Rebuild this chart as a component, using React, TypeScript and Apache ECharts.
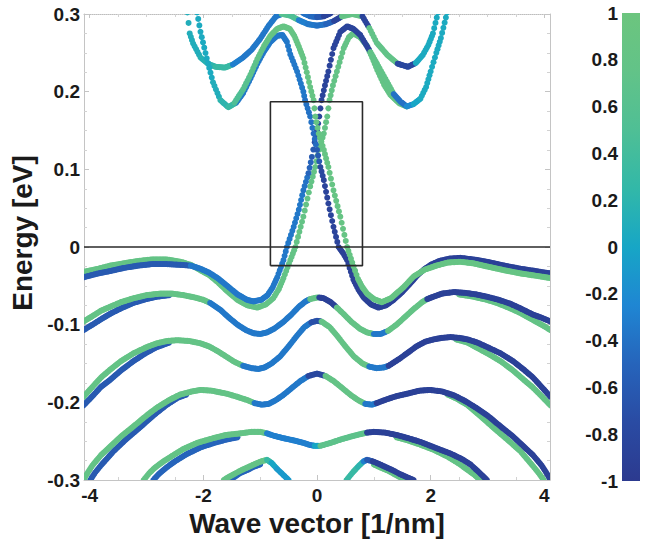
import React, { useEffect, useRef } from "react";
import * as echarts from "echarts";

type P = [number, number, number]; // [wave vector, energy, spin]

// axis extents / ticks
const X_MIN = -4.1;
const X_MAX = 4.1;
const Y_MIN = -0.3;
const Y_MAX = 0.3;
const Y_STEP = 0.1;
const CB_MIN = -1;
const CB_MAX = 1;
const CB_STEP = 0.2;

// colour map of the spin value, from -1 (bottom) to 1 (top)
const CMAP = ["#2c3a8f", "#2a4ba3", "#2664bb", "#1f86d3", "#17a6c6", "#32b8a8", "#4fbf95", "#62c388", "#6cc57e"];

// highlighted window and zero-energy line
const boxCorners: [number, number][] = [[-0.82, -0.024], [0.8, -0.024], [0.8, 0.187], [-0.82, 0.187], [-0.82, -0.024]];
const zeroEnergy = 0;

// ---- conduction bands ----
const capTop: P[] = [[-0.24, 0.301, -0.4], [-0.12, 0.297, -0.45], [0, 0.296, -0.6], [0.12, 0.297, -0.85], [0.24, 0.301, -0.9]];

const bandU: P[] = [
  [-2.28, 0.302, 0.1], [-2.24, 0.275, 0.1], [-2.18, 0.262, 0.1], [-2.05, 0.244, 0.15], [-1.92, 0.236, 0.2],
  [-1.78, 0.232, 0.3], [-1.62, 0.231, 0.3], [-1.48, 0.235, -0.3], [-1.3, 0.244, -0.35], [-1.15, 0.254, -0.35],
  [-1.0, 0.268, -0.35], [-0.85, 0.285, -0.35], [-0.72, 0.297, -0.35], [-0.62, 0.3, 0.6], [-0.47, 0.298, 0.5],
  [-0.32, 0.292, -0.3], [-0.16, 0.287, -0.35], [0, 0.285, -0.4], [0.16, 0.287, -0.5], [0.3, 0.291, -0.85],
  [0.44, 0.297, 0.8], [0.62, 0.3, 0.8], [0.8, 0.297, -0.85], [0.92, 0.282, 0.75], [1.05, 0.263, 0.75],
  [1.24, 0.247, 0.75], [1.42, 0.236, -0.8], [1.6, 0.232, -0.8], [1.74, 0.237, 0.05], [1.86, 0.247, 0.05],
  [1.96, 0.26, 0.05], [2.04, 0.275, 0.05], [2.13, 0.302, 0.05],
];

// ---- bands through the crossing ----
const bandD2: P[] = [
  [-4.11, -0.032, 0.8], [-3.85, -0.028, 0.8], [-3.64, -0.024, 0.8], [-3.4, -0.021, 0.8], [-3.15, -0.018, 0.8],
  [-2.9, -0.016, 0.8], [-2.65, -0.016, 0.8], [-2.4, -0.019, 0.8], [-2.22, -0.023, 0.8], [-2.05, -0.03, 0.8],
  [-1.9, -0.036, 0.8], [-1.75, -0.045, 0.8], [-1.58, -0.057, 0.8], [-1.4, -0.068, 0.8], [-1.23, -0.075, 0.8],
  [-1.05, -0.078, 0.8], [-0.9, -0.074, 0.8], [-0.77, -0.066, 0.8], [-0.67, -0.054, 0.8], [-0.59, -0.04, 0.8],
  [-0.47, -0.017, 0.8], [-0.38, 0, 0.8], [-0.24, 0.039, 0.8], [-0.12, 0.078, 0.8], [-0.03, 0.103, 0.8],
  [0.03, 0.125, 0.8], [0.12, 0.146, 0.8], [0.18, 0.168, 0.8], [0.22, 0.189, 0.8], [0.28, 0.208, 0.8],
  [0.35, 0.226, 0.8], [0.47, 0.256, 0.8], [0.56, 0.27, 0.8], [0.64, 0.275, 0.8], [0.76, 0.27, 0.8],
  [0.88, 0.259, 0.8], [0.97, 0.244, 0.8], [1.06, 0.228, 0.8], [1.18, 0.209, 0.8], [1.29, 0.196, 0.8],
  [1.45, 0.185, 0.8], [1.58, 0.181, 0.8],
];

const bandD1: P[] = [
  [-4.11, -0.039, -0.6], [-3.85, -0.034, -0.6], [-3.64, -0.031, -0.6], [-3.4, -0.027, -0.6], [-3.15, -0.024, -0.6],
  [-2.9, -0.022, -0.6], [-2.65, -0.022, -0.6], [-2.4, -0.023, -0.6], [-2.22, -0.024, -0.35], [-2.05, -0.028, -0.35],
  [-1.9, -0.033, -0.35], [-1.75, -0.04, -0.35], [-1.58, -0.05, -0.35], [-1.4, -0.061, -0.35], [-1.23, -0.068, -0.35],
  [-1.12, -0.07, -0.35], [-0.98, -0.068, -0.35], [-0.87, -0.062, -0.35], [-0.78, -0.052, -0.35], [-0.7, -0.039, -0.35],
  [-0.59, -0.017, -0.35], [-0.53, 0, -0.35], [-0.41, 0.026, -0.35], [-0.32, 0.048, -0.35], [-0.24, 0.073, -0.4],
  [-0.15, 0.095, -0.5], [-0.09, 0.116, -0.6], [-0.04, 0.135, -0.7], [0.0, 0.15, -0.8], [0.04, 0.168, -0.85],
  [0.08, 0.189, -0.85], [0.14, 0.208, -0.85], [0.2, 0.226, -0.85], [0.29, 0.256, -0.85], [0.41, 0.277, -0.85],
  [0.53, 0.284, -0.85], [0.64, 0.281, -0.85], [0.76, 0.273, -0.85], [0.94, 0.251, 0.75], [1.1, 0.23, 0.75],
  [1.23, 0.213, 0.75], [1.35, 0.197, -0.4], [1.47, 0.187, -0.4], [1.58, 0.181, -0.2], [1.7, 0.184, 0.0],
  [1.82, 0.191, 0.05], [1.92, 0.206, 0.05], [2.0, 0.226, 0.05], [2.1, 0.25, 0.05], [2.18, 0.269, 0.05],
  [2.29, 0.302, 0.05],
];

const bandD3: P[] = [
  [-2.11, 0.302, 0.05], [-2.05, 0.277, 0.05], [-1.94, 0.243, 0.05], [-1.83, 0.212, 0.1], [-1.7, 0.189, 0.2],
  [-1.56, 0.18, 0.3], [-1.42, 0.186, -0.35], [-1.3, 0.198, -0.35], [-1.17, 0.217, -0.35], [-1.05, 0.236, -0.35],
  [-0.93, 0.252, -0.35], [-0.82, 0.264, -0.35], [-0.7, 0.272, -0.35], [-0.61, 0.273, -0.35], [-0.53, 0.264, -0.35],
  [-0.47, 0.248, -0.35], [-0.35, 0.226, -0.35], [-0.24, 0.2, -0.35], [-0.21, 0.189, -0.4], [-0.12, 0.168, -0.4],
  [-0.06, 0.146, -0.45], [0.0, 0.125, -0.6], [0.06, 0.103, -0.8], [0.12, 0.086, -0.85], [0.2, 0.056, -0.85],
  [0.29, 0.026, -0.85], [0.38, 0, -0.9], [0.46, -0.008, -0.9], [0.53, -0.017, -0.9], [0.64, -0.042, -0.9],
  [0.73, -0.055, -0.9], [0.82, -0.065, -0.9], [0.95, -0.074, -0.9], [1.08, -0.078, -0.9], [1.22, -0.075, -0.9],
  [1.35, -0.068, -0.9], [1.5, -0.058, -0.9], [1.64, -0.047, -0.9], [1.76, -0.037, -0.9], [1.88, -0.029, -0.9],
  [2.0, -0.023, -0.9], [2.15, -0.018, -0.9], [2.33, -0.015, -0.9], [2.52, -0.014, -0.9], [2.75, -0.016, -0.9],
  [2.99, -0.019, -0.9], [3.3, -0.024, -0.9], [3.58, -0.028, -0.9], [3.85, -0.031, -0.9], [4.11, -0.034, -0.9],
];

const bandD4: P[] = [
  [-1.45, 0.186, 0.5], [-1.3, 0.203, 0.6], [-1.17, 0.222, 0.7], [-1.05, 0.242, 0.75], [-0.93, 0.259, 0.8],
  [-0.82, 0.272, 0.85], [-0.7, 0.281, 0.85], [-0.59, 0.284, 0.85], [-0.48, 0.281, 0.85], [-0.4, 0.272, 0.85],
  [-0.32, 0.258, 0.85], [-0.24, 0.243, 0.85], [-0.18, 0.225, 0.85], [-0.12, 0.206, 0.85], [-0.06, 0.189, 0.85],
  [-0.03, 0.168, 0.85], [0.03, 0.146, 0.85], [0.12, 0.125, 0.85], [0.2, 0.103, 0.85], [0.29, 0.073, 0.85],
  [0.41, 0.039, 0.85], [0.53, 0, 0.85], [0.62, -0.02, 0.85], [0.72, -0.041, 0.85], [0.8, -0.052, 0.85],
  [0.88, -0.06, 0.85], [1.0, -0.067, 0.85], [1.14, -0.071, 0.85], [1.3, -0.066, 0.85], [1.52, -0.052, 0.85],
  [1.7, -0.038, 0.85], [1.9, -0.029, 0.85], [2.1, -0.024, 0.85], [2.3, -0.02, 0.85], [2.52, -0.019, 0.85],
  [2.75, -0.021, 0.85], [2.99, -0.025, 0.85], [3.3, -0.03, 0.85], [3.58, -0.034, 0.85], [3.85, -0.037, 0.85],
  [4.11, -0.04, 0.85],
];

// ---- lower valence bands ----
const vb2LoL: P[] = [[-4.11, -0.107, -0.6], [-3.95, -0.1, -0.6], [-3.8, -0.093, -0.6], [-3.64, -0.086, -0.6], [-3.45, -0.079, -0.6], [-3.23, -0.072, -0.6], [-3.0, -0.067, -0.6], [-2.82, -0.064, -0.6], [-2.6, -0.062, -0.6]];
const vb2LoR: P[] = [[2.5, -0.061, 0.8], [2.75, -0.064, 0.8], [2.99, -0.068, 0.8], [3.2, -0.073, 0.8], [3.4, -0.079, 0.8], [3.58, -0.085, 0.8], [3.8, -0.094, 0.8], [3.95, -0.1, 0.8], [4.11, -0.107, 0.8]];
const vb2: P[] = [
  [-4.11, -0.096, 0.8], [-3.95, -0.089, 0.8], [-3.8, -0.082, 0.8], [-3.64, -0.077, 0.8], [-3.45, -0.071, 0.8],
  [-3.23, -0.066, 0.8], [-3.0, -0.062, 0.8], [-2.76, -0.06, 0.8], [-2.55, -0.06, 0.8], [-2.35, -0.062, 0.8],
  [-2.15, -0.065, 0.8], [-2.0, -0.068, 0.8], [-1.88, -0.072, -0.35], [-1.7, -0.081, -0.35], [-1.55, -0.091, -0.35],
  [-1.4, -0.1, -0.35], [-1.25, -0.107, -0.35], [-1.12, -0.111, -0.35], [-1.0, -0.112, -0.35], [-0.88, -0.11, -0.35],
  [-0.75, -0.105, -0.35], [-0.6, -0.097, -0.35], [-0.45, -0.087, -0.35], [-0.32, -0.077, -0.35], [-0.2, -0.07, -0.35],
  [-0.12, -0.067, 0.8], [0, -0.065, 0.8], [0.04, -0.065, -0.9], [0.12, -0.066, -0.9], [0.24, -0.071, -0.9],
  [0.35, -0.078, 0.8], [0.45, -0.085, 0.8], [0.6, -0.096, 0.8], [0.75, -0.105, 0.8], [0.88, -0.11, 0.8],
  [1.0, -0.112, -0.35], [1.12, -0.112, -0.35], [1.25, -0.108, 0.8], [1.4, -0.1, 0.8], [1.55, -0.09, 0.8],
  [1.7, -0.08, 0.8], [1.85, -0.071, 0.8], [1.94, -0.067, -0.9], [2.05, -0.064, -0.9], [2.2, -0.06, -0.9],
  [2.41, -0.058, -0.9], [2.6, -0.059, -0.9], [2.8, -0.061, -0.9], [2.99, -0.064, -0.9], [3.2, -0.068, -0.9],
  [3.4, -0.073, -0.9], [3.58, -0.079, -0.9], [3.8, -0.087, -0.9], [3.95, -0.091, -0.9], [4.11, -0.096, -0.9],
];

const vb3LoL: P[] = [[-4.11, -0.204, -0.6], [-3.95, -0.192, -0.6], [-3.8, -0.18, -0.6], [-3.64, -0.171, -0.6], [-3.45, -0.159, -0.6], [-3.23, -0.147, -0.6], [-3.0, -0.136, -0.6], [-2.82, -0.129, -0.6], [-2.6, -0.123, -0.6]];
const vb3LoR: P[] = [[2.45, -0.119, 0.8], [2.65, -0.123, 0.8], [2.82, -0.13, 0.8], [3.0, -0.137, 0.8], [3.23, -0.147, 0.8], [3.45, -0.159, 0.8], [3.64, -0.171, 0.8], [3.8, -0.181, 0.8], [3.95, -0.192, 0.8], [4.11, -0.204, 0.8]];
const vb3: P[] = [
  [-4.11, -0.193, 0.8], [-3.95, -0.18, 0.8], [-3.8, -0.168, 0.8], [-3.64, -0.158, 0.8], [-3.45, -0.147, 0.8],
  [-3.23, -0.137, 0.8], [-3.0, -0.129, 0.8], [-2.82, -0.124, 0.8], [-2.64, -0.121, 0.8], [-2.46, -0.12, 0.8],
  [-2.25, -0.121, 0.8], [-2.05, -0.124, 0.8], [-1.9, -0.128, 0.8], [-1.75, -0.134, 0.8], [-1.6, -0.141, 0.8],
  [-1.45, -0.148, 0.8], [-1.3, -0.153, -0.35], [-1.15, -0.156, -0.35], [-1.03, -0.157, -0.35], [-0.92, -0.155, -0.35],
  [-0.8, -0.15, -0.35], [-0.65, -0.141, -0.35], [-0.5, -0.128, -0.35], [-0.35, -0.114, -0.35], [-0.22, -0.103, -0.35],
  [-0.1, -0.097, -0.7], [0, -0.095, -0.7], [0.08, -0.096, 0.8], [0.22, -0.103, 0.8], [0.35, -0.114, 0.8],
  [0.5, -0.128, 0.8], [0.65, -0.141, 0.8], [0.8, -0.15, 0.8], [0.92, -0.154, -0.35], [1.05, -0.156, -0.35],
  [1.18, -0.155, -0.35], [1.26, -0.153, -0.9], [1.45, -0.144, -0.9], [1.6, -0.136, -0.9], [1.75, -0.128, -0.9],
  [1.9, -0.122, -0.9], [2.05, -0.119, -0.9], [2.2, -0.117, -0.9], [2.35, -0.116, -0.9], [2.5, -0.117, -0.9],
  [2.65, -0.119, -0.9], [2.82, -0.123, -0.9], [3.0, -0.129, -0.9], [3.23, -0.137, -0.9], [3.45, -0.147, -0.9],
  [3.64, -0.158, -0.9], [3.8, -0.168, -0.9], [3.95, -0.18, -0.9], [4.11, -0.193, -0.9],
];

const vb4LoL: P[] = [[-3.99, -0.3, -0.6], [-3.9, -0.29, -0.6], [-3.8, -0.281, -0.6], [-3.58, -0.263, -0.6], [-3.35, -0.247, -0.6], [-3.11, -0.232, -0.6], [-2.88, -0.217, -0.6], [-2.64, -0.203, -0.6], [-2.45, -0.194, -0.6], [-2.3, -0.19, -0.6]];
const vb4LoR: P[] = [[2.3, -0.19, 0.8], [2.45, -0.195, 0.8], [2.64, -0.203, 0.8], [2.88, -0.218, 0.8], [3.11, -0.233, 0.8], [3.35, -0.248, 0.8], [3.58, -0.263, 0.8], [3.8, -0.282, 0.8], [3.9, -0.291, 0.8], [3.99, -0.3, 0.8]];
const vb4: P[] = [
  [-4.11, -0.3, 0.8], [-4.03, -0.29, 0.8], [-3.95, -0.281, 0.8], [-3.8, -0.268, 0.8], [-3.64, -0.257, 0.8],
  [-3.45, -0.244, 0.8], [-3.23, -0.231, 0.8], [-3.0, -0.217, 0.8], [-2.82, -0.207, 0.8], [-2.6, -0.197, 0.8],
  [-2.41, -0.19, 0.8], [-2.2, -0.186, 0.8], [-2.05, -0.184, 0.8], [-1.85, -0.185, 0.8], [-1.58, -0.189, 0.8],
  [-1.4, -0.193, 0.8], [-1.23, -0.197, 0.8], [-1.1, -0.201, -0.35], [-0.97, -0.203, -0.35], [-0.85, -0.202, -0.35],
  [-0.72, -0.197, -0.35], [-0.6, -0.191, -0.35], [-0.45, -0.182, -0.35], [-0.3, -0.173, -0.35], [-0.15, -0.166, -0.8],
  [0, -0.163, -0.8], [0.15, -0.166, 0.8], [0.3, -0.173, 0.8], [0.45, -0.182, 0.8], [0.6, -0.191, 0.8],
  [0.72, -0.197, 0.8], [0.85, -0.202, -0.35], [0.97, -0.203, -0.35], [1.05, -0.201, -0.9], [1.23, -0.196, -0.9],
  [1.4, -0.192, -0.9], [1.58, -0.189, -0.9], [1.8, -0.185, -0.9], [1.99, -0.184, -0.9], [2.2, -0.186, -0.9],
  [2.41, -0.191, -0.9], [2.6, -0.198, -0.9], [2.82, -0.208, -0.9], [3.0, -0.217, -0.9], [3.23, -0.231, -0.9],
  [3.45, -0.244, -0.9], [3.64, -0.257, -0.9], [3.8, -0.268, -0.9], [3.95, -0.281, -0.9], [4.03, -0.29, -0.9],
  [4.11, -0.3, -0.9],
];

const vb5LoL: P[] = [[-2.88, -0.3, -0.5], [-2.78, -0.292, -0.5], [-2.65, -0.284, -0.5], [-2.5, -0.276, -0.5], [-2.3, -0.267, -0.5], [-2.05, -0.258, -0.5], [-1.8, -0.252, -0.5], [-1.6, -0.248, -0.5], [-1.4, -0.245, -0.5]];
const vb5LoR: P[] = [[1.4, -0.245, 0.8], [1.6, -0.249, 0.8], [1.8, -0.254, 0.8], [2.05, -0.261, 0.8], [2.3, -0.27, 0.8], [2.5, -0.279, 0.8], [2.65, -0.287, 0.8], [2.78, -0.294, 0.8], [2.87, -0.3, 0.8]];
const vb5: P[] = [
  [-3.05, -0.3, 0.8], [-2.95, -0.291, 0.8], [-2.85, -0.284, 0.8], [-2.7, -0.276, 0.8], [-2.55, -0.269, 0.8],
  [-2.35, -0.26, 0.8], [-2.1, -0.252, 0.8], [-1.82, -0.246, 0.8], [-1.6, -0.242, 0.8], [-1.35, -0.24, 0.8],
  [-1.15, -0.238, 0.8], [-1.0, -0.238, 0.8], [-0.88, -0.24, -0.3], [-0.76, -0.243, -0.3], [-0.6, -0.246, -0.3],
  [-0.41, -0.249, -0.3], [-0.25, -0.252, -0.3], [-0.12, -0.255, -0.3], [-0.04, -0.256, 0.0], [0.06, -0.256, 0.7],
  [0.25, -0.252, 0.7], [0.41, -0.248, 0.7], [0.6, -0.244, 0.7], [0.76, -0.241, 0.7], [0.88, -0.239, -0.9],
  [1.0, -0.238, -0.9], [1.2, -0.239, -0.9], [1.4, -0.242, -0.9], [1.6, -0.246, -0.9], [1.82, -0.251, -0.9],
  [2.1, -0.259, -0.9], [2.35, -0.266, -0.9], [2.55, -0.273, -0.9], [2.7, -0.28, -0.9], [2.85, -0.29, -0.9],
  [2.99, -0.3, -0.9],
];

const vb6LLo: P[] = [[-1.56, -0.3, -0.5], [-1.45, -0.296, -0.5], [-1.35, -0.291, -0.5], [-1.22, -0.287, -0.5], [-1.12, -0.283, -0.5], [-1.0, -0.28, -0.5]];
const vb6L: P[] = [
  [-1.64, -0.3, 0.8], [-1.55, -0.296, 0.8], [-1.45, -0.292, 0.8], [-1.32, -0.287, 0.8], [-1.2, -0.283, 0.8],
  [-1.08, -0.279, 0.8], [-0.98, -0.276, 0.8], [-0.88, -0.274, 0.3], [-0.8, -0.278, 0.0], [-0.7, -0.286, -0.1],
  [-0.6, -0.293, -0.1], [-0.5, -0.3, -0.1],
];
const vb6RLo: P[] = [[1.0, -0.28, 0.8], [1.12, -0.284, 0.8], [1.25, -0.288, 0.8], [1.35, -0.292, 0.8], [1.45, -0.296, 0.8], [1.6, -0.3, 0.8]];
const vb6R: P[] = [
  [0.52, -0.3, 0.3], [0.62, -0.291, 0.3], [0.72, -0.283, 0.2], [0.82, -0.276, -0.3], [0.88, -0.274, -0.6],
  [0.98, -0.276, -0.9], [1.08, -0.279, -0.9], [1.2, -0.283, -0.9], [1.32, -0.287, -0.9], [1.45, -0.292, -0.9],
  [1.57, -0.296, -0.9], [1.7, -0.3, -0.9],
];

// drawing order (later ones on top)
const curves: P[][] = [
  bandU, capTop, bandD2, bandD1, bandD3, bandD4,
  vb2LoL, vb2LoR, vb2, vb3LoL, vb3LoR, vb3, vb4LoL, vb4LoR, vb4,
  vb5LoL, vb5LoR, vb5, vb6LLo, vb6L, vb6RLo, vb6R,
];

const FONT = '"Liberation Sans", Arial, Helvetica, sans-serif';
const DOT_R = 3.0;
const DOT_STEP = 1.5;

export default function App() {
  const ref = useRef<HTMLDivElement>(null);

  useEffect(() => {
    if (!ref.current) return;
    const chart = echarts.init(ref.current, undefined, { renderer: "svg" });

    const segments: number[][] = [];
    curves.forEach((c) => {
      for (let i = 0; i < c.length - 1; i++) {
        const a = c[i];
        const b = c[i + 1];
        segments.push([a[0], a[1], b[0], b[1], a[2], i === c.length - 2 ? 1 : 0]);
      }
    });

    const labelStyle = { color: "#1a1a1a", fontSize: 19, fontWeight: "bold" as const, fontFamily: FONT };
    const nameStyle = { color: "#1a1a1a", fontSize: 28, fontWeight: "bold" as const, fontFamily: FONT };
    const axisGrey = "#c4c4c4";

    const stops = CMAP.map((c, i) => ({ offset: 1 - i / (CMAP.length - 1), color: c })).reverse();

    const option: any = {
      animation: false,
      backgroundColor: "#ffffff",
      grid: [
        { left: 84, top: 14, width: 466, height: 466, containLabel: false },
        { left: 622, top: 13, width: 18, height: 468, containLabel: false },
      ],
      xAxis: [
        {
          gridIndex: 0, type: "value", min: X_MIN, max: X_MAX, splitNumber: 4, position: "bottom",
          axisLine: { show: true, onZero: false, lineStyle: { color: axisGrey, width: 1 } },
          axisTick: { show: true, inside: true, length: 5, lineStyle: { color: axisGrey } },
          minorTick: { show: true, splitNumber: 4, length: 3, lineStyle: { color: "#d2d2d2" } },
          splitLine: { show: false },
          axisLabel: { ...labelStyle, margin: 6, showMinLabel: false, showMaxLabel: false },
          name: "Wave vector [1/nm]", nameLocation: "middle", nameGap: 28, nameTextStyle: nameStyle,
        },
        {
          gridIndex: 0, type: "value", min: X_MIN, max: X_MAX, splitNumber: 4, position: "top",
          axisLine: { show: true, onZero: false, lineStyle: { color: "#bdbdbd", type: "dotted" } },
          axisTick: { show: true, inside: true, length: 4, lineStyle: { color: axisGrey } },
          minorTick: { show: true, splitNumber: 4, length: 3, lineStyle: { color: "#d2d2d2" } },
          axisLabel: { show: false }, splitLine: { show: false },
        },
        { gridIndex: 1, type: "value", min: 0, max: 1, show: false },
      ],
      yAxis: [
        {
          gridIndex: 0, type: "value", min: Y_MIN, max: Y_MAX, interval: Y_STEP, position: "left",
          axisLine: { show: true, onZero: false, lineStyle: { color: axisGrey, width: 1 } },
          axisTick: { show: true, inside: true, length: 5, lineStyle: { color: axisGrey } },
          minorTick: { show: true, splitNumber: 4, length: 3, lineStyle: { color: "#d2d2d2" } },
          splitLine: { show: false },
          axisLabel: { ...labelStyle, margin: 4 },
          name: "Energy [eV]", nameLocation: "middle", nameGap: 38, nameRotate: 90,
          nameTextStyle: { ...nameStyle, padding: [0, 0, 0, 28] },
        },
        {
          gridIndex: 0, type: "value", min: Y_MIN, max: Y_MAX, interval: Y_STEP, position: "right",
          axisLine: { show: true, onZero: false, lineStyle: { color: axisGrey, width: 1 } },
          axisTick: { show: true, inside: true, length: 5, lineStyle: { color: axisGrey } },
          minorTick: { show: true, splitNumber: 4, length: 3, lineStyle: { color: "#d2d2d2" } },
          axisLabel: { show: false }, splitLine: { show: false },
        },
        {
          gridIndex: 1, type: "value", min: CB_MIN, max: CB_MAX, interval: CB_STEP, position: "left",
          axisLine: { show: false }, axisTick: { show: false }, splitLine: { show: false },
          axisLabel: { ...labelStyle, margin: 4 },
        },
      ],
      visualMap: {
        type: "continuous", show: false, min: CB_MIN, max: CB_MAX, dimension: 4, seriesIndex: 0,
        inRange: { color: CMAP },
      },
      graphic: [
        {
          type: "rect", z: 0,
          shape: { x: 622, y: 13, width: 18, height: 468 },
          style: { fill: new echarts.graphic.LinearGradient(0, 0, 0, 1, stops) },
        },
      ],
      series: [
        {
          type: "custom", coordinateSystem: "cartesian2d", xAxisIndex: 0, yAxisIndex: 0,
          data: segments, encode: { x: [0, 2], y: [1, 3] }, clip: true, silent: true, z: 2,
          renderItem: (params: any, api: any) => {
            const p1 = api.coord([api.value(0), api.value(1)]);
            const p2 = api.coord([api.value(2), api.value(3)]);
            const last = api.value(5) === 1;
            const color = api.visual("color");
            const dx = p2[0] - p1[0];
            const dy = p2[1] - p1[1];
            const n = Math.max(1, Math.ceil(Math.abs(dx) / DOT_STEP));
            const end = last ? n : n - 1;
            const children: any[] = [];
            for (let k = 0; k <= end; k++) {
              const t = k / n;
              children.push({
                type: "circle",
                shape: { cx: p1[0] + dx * t, cy: p1[1] + dy * t, r: DOT_R },
                style: { fill: color },
              });
            }
            return { type: "group", children };
          },
        },
        {
          type: "line", xAxisIndex: 0, yAxisIndex: 0, data: boxCorners, symbol: "none", silent: true, z: 5,
          lineStyle: { color: "#2a2a2a", width: 1.6 },
          markLine: {
            silent: true, symbol: "none", label: { show: false },
            lineStyle: { color: "#2a2a2a", width: 1.6, type: "solid" },
            data: [{ yAxis: zeroEnergy }],
          },
        },
      ],
    };

    chart.setOption(option);
    return () => chart.dispose();
  }, []);

  return <div ref={ref} style={{ position: "absolute", left: 0, top: 0, width: 648, height: 543 }} />;
}
